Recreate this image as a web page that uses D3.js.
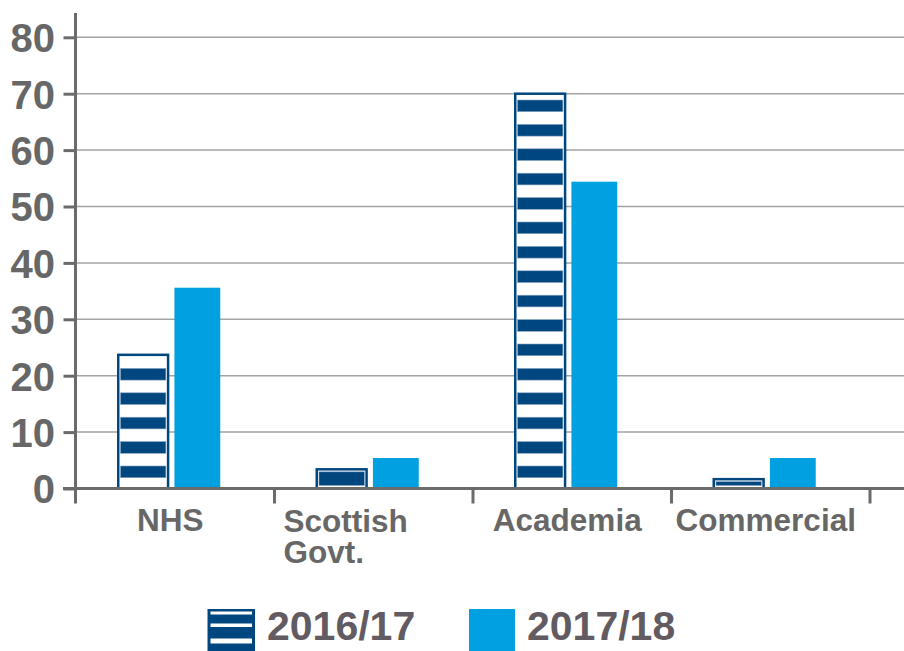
<!DOCTYPE html>
<html>
<head>
<meta charset="utf-8">
<script src="https://cdn.jsdelivr.net/npm/d3@7"></script>
<style>
  html, body { margin: 0; padding: 0; background: #ffffff; }
  svg { display: block; }
  text { font-family: "Liberation Sans", Arial, Helvetica, sans-serif; font-weight: bold; }
</style>
</head>
<body>
<svg id="chart" width="904" height="651"></svg>
<script>
// ---- data ----
const categories = ["NHS", "Scottish\nGovt.", "Academia", "Commercial"];
const seriesNames = ["2016/17", "2017/18"];
const values2016 = [23.7, 3.4, 70.0, 1.65];
const values2017 = [35.6, 5.4, 54.4, 5.4];
const yTicks = [0, 10, 20, 30, 40, 50, 60, 70, 80];

// ---- styles ----
const darkBlue = "#00467f";
const lightBlue = "#00a0e1";
const axisGrey = "#6b6b6b";
const gridGrey = "#a3a3a3";
const textGrey = "#676767";
const legendGrey = "#625b61";

const svg = d3.select("#chart");
const W = 904, H = 651;

const plot = { left: 76, right: 870, top: 37.3, bottom: 488.5 };

const y = d3.scaleLinear().domain([0, 80]).range([plot.bottom, plot.top]);
const x0 = d3.scaleBand().domain(categories).range([plot.left, plot.right]);
const bw = x0.bandwidth();
const groupW = 104, groupShift = -5;
const x1 = d3.scaleBand().domain(seriesNames)
  .range([bw / 2 - groupW / 2 + groupShift, bw / 2 + groupW / 2 + groupShift])
  .paddingInner(0.08);

// gridlines
svg.append("g").selectAll("line")
  .data(yTicks.filter(d => d > 0))
  .join("line")
  .attr("x1", plot.left).attr("x2", W)
  .attr("y1", d => y(d)).attr("y2", d => y(d))
  .attr("stroke", gridGrey).attr("stroke-width", 1.5);

// bars
const rows = categories.map((c, i) => ({ cat: c, v: [values2016[i], values2017[i]] }));

const gBars = svg.append("g");
rows.forEach(r => {
  const gx = x0(r.cat);
  // 2017/18 solid bar
  const s2 = seriesNames[1];
  gBars.append("rect")
    .attr("x", gx + x1(s2) + 2)
    .attr("width", x1.bandwidth() - 4)
    .attr("y", y(r.v[1]))
    .attr("height", y(0) - y(r.v[1]))
    .attr("fill", lightBlue);

  // 2016/17 striped bar
  const s1 = seriesNames[0];
  const bx = gx + x1(s1), bwid = x1.bandwidth();
  const top = y(r.v[0]), bot = y(0);
  const h = bot - top;
  gBars.append("rect")
    .attr("x", bx).attr("width", bwid)
    .attr("y", top).attr("height", h)
    .attr("fill", "#ffffff")
    .attr("stroke", darkBlue).attr("stroke-width", 2.5);
  const stripes = [];
  const period = 24.4, sh = 11.7, bottomGap = 10.8;
  if (h < period) {
    stripes.push({ y0: top + 2.5, y1: bot - 3 });
  } else {
    for (let k = 0; ; k++) {
      const sb = bot - bottomGap - k * period;
      const st = sb - sh;
      if (st < top + 2) break;
      stripes.push({ y0: st, y1: sb });
    }
  }
  gBars.append("g").selectAll("rect")
    .data(stripes)
    .join("rect")
    .attr("x", bx + 2.2).attr("width", bwid - 4.4)
    .attr("y", d => d.y0).attr("height", d => d.y1 - d.y0)
    .attr("fill", darkBlue)
    .attr("stroke", "#8aa6c4").attr("stroke-width", 0.6);
});

// baseline (x axis)
svg.append("line")
  .attr("x1", 63).attr("x2", W)
  .attr("y1", y(0)).attr("y2", y(0))
  .attr("stroke", axisGrey).attr("stroke-width", 3.2);

// category separator ticks
const sepX = categories.map(c => x0(c)).concat([plot.right]);
svg.append("g").selectAll("line")
  .data(sepX.slice(1))
  .join("line")
  .attr("x1", d => d).attr("x2", d => d)
  .attr("y1", y(0)).attr("y2", y(0) + 15)
  .attr("stroke", axisGrey).attr("stroke-width", 3);

// y axis
const yAxis = d3.axisLeft(y).tickValues(yTicks).tickSize(12).tickPadding(8.5);
const gy = svg.append("g").attr("transform", `translate(${plot.left - 0.5},0)`).call(yAxis);
gy.select(".domain").remove();
gy.selectAll(".tick line").attr("stroke", axisGrey).attr("stroke-width", 3);
gy.selectAll(".tick text")
  .attr("fill", textGrey)
  .attr("font-size", 40)
  .attr("font-family", "Liberation Sans, Arial, sans-serif")
  .attr("font-weight", "bold")
  .attr("dy", "0.36em");
svg.append("line")
  .attr("x1", plot.left - 0.5).attr("x2", plot.left - 0.5)
  .attr("y1", 13).attr("y2", y(0) + 15)
  .attr("stroke", axisGrey).attr("stroke-width", 3);

// category labels
categories.forEach(c => {
  const lines = c.split("\n");
  if (lines.length === 1) {
    svg.append("text")
      .attr("fill", textGrey)
      .attr("font-size", 31.5)
      .attr("text-anchor", "middle")
      .attr("x", x0(c) + bw / 2 - 5)
      .attr("y", 531)
      .text(c);
  } else {
    lines.forEach((ln, i) => {
      svg.append("text")
        .attr("fill", textGrey)
        .attr("font-size", 31.5)
        .attr("x", x0(c) + 9)
        .attr("y", 532 + i * 30.5)
        .text(ln);
    });
  }
});

// legend
const lg = svg.append("g");
// 2016/17 swatch
lg.append("rect").attr("x", 207.5).attr("y", 609).attr("width", 47.5).attr("height", 42).attr("fill", darkBlue);
[[2.5, 3], [14.5, 3.5], [29.5, 5]].forEach(([o, hh]) => {
  lg.append("rect").attr("x", 210.5).attr("y", 609 + o).attr("width", 41.5).attr("height", hh).attr("fill", "#ffffff");
});
lg.append("text").attr("x", 267).attr("y", 640).attr("font-size", 41).attr("fill", legendGrey).text(seriesNames[0]);
// 2017/18 swatch
lg.append("rect").attr("x", 469).attr("y", 609).attr("width", 46).attr("height", 42).attr("fill", lightBlue);
lg.append("text").attr("x", 527).attr("y", 640).attr("font-size", 41).attr("fill", legendGrey).text(seriesNames[1]);
</script>
</body>
</html>
